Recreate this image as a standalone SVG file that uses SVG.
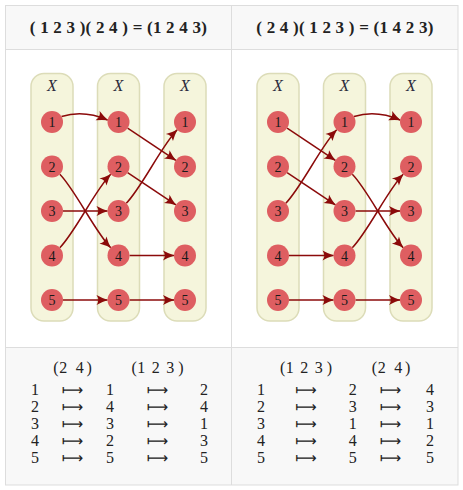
<svg xmlns="http://www.w3.org/2000/svg" width="463" height="490" viewBox="0 0 463 490">
<style>
.cell{fill:#f8f8f8}
.grid{stroke:#dddddd;stroke-width:1;fill:none}
.title{font-family:"Liberation Serif","DejaVu Serif",serif;font-weight:bold;font-size:17px;fill:#222;text-anchor:middle}
.col{fill:#f5f5dc;stroke:#dcdcb8;stroke-width:1.5}
.xl{font-family:"Liberation Serif","DejaVu Serif",serif;font-style:italic;font-size:16px;fill:#2b2b3b;text-anchor:middle}
.nd{fill:#de5e61}
.nt{font-family:"Liberation Serif","DejaVu Serif",serif;font-size:14px;fill:#1a1a1a;text-anchor:middle}
.e{fill:none;stroke:#8b0a0a;stroke-width:1.5;marker-end:url(#ah)}
.tb{font-family:"Liberation Serif","DejaVu Serif",serif;font-size:16px;fill:#222;text-anchor:middle}
.ar{font-family:"DejaVu Sans",sans-serif;font-size:15px;fill:#222;text-anchor:middle}
</style>
<defs>
<marker id="ah" markerUnits="userSpaceOnUse" markerWidth="14" markerHeight="12" viewBox="-12 -6 14 12" refX="0" refY="0" orient="auto" overflow="visible">
<path d="M0.5,0 Q-5,-1.6 -11,-5 Q-7.5,0 -11,5 Q-5,1.6 0.5,0 Z" fill="#8b0a0a"/>
</marker>
<g id="column">
<rect class="col" x="-21" y="73.5" width="42" height="247.5" rx="13"/>
<text class="xl" x="0" y="90.5">X</text>
</g>
</defs>

<g id="table">
<rect class="cell" x="5" y="5" width="453" height="44"/>
<rect fill="#ffffff" x="5" y="49" width="453" height="298"/>
<rect class="cell" x="5" y="347" width="453" height="138"/>
<rect class="grid" x="5.5" y="5.5" width="452.5" height="479.5"/>
<line class="grid" x1="231.5" y1="5" x2="231.5" y2="485"/>
<line class="grid" x1="5" y1="49.5" x2="458" y2="49.5"/>
<line class="grid" x1="5" y1="347.5" x2="458" y2="347.5"/>
</g>

<g id="titles">
<text class="title" x="118.3" y="32.5" textLength="177" lengthAdjust="spacing" style="white-space:pre">( 1 2 3 )( 2 4 ) = (1 2 4 3)</text>
<text class="title" x="344.8" y="32.5" textLength="177" lengthAdjust="spacing" style="white-space:pre">( 2 4 )( 1 2 3 ) = (1 4 2 3)</text>
</g>

<g id="columns">
<use href="#column" x="52"/>
<use href="#column" x="118.5"/>
<use href="#column" x="185"/>
<use href="#column" x="278"/>
<use href="#column" x="344.5"/>
<use href="#column" x="411"/>
</g>

<g id="connectors">
<!-- left, stage 1: (2 4) -->
<path class="e" d="M61.5,116.5 Q84,109.7 107.7,120.1"/>
<path class="e" d="M59.8,174.3 C74.8,189.3 95.7,232.7 110.7,247.7"/>
<path class="e" d="M63,211 L107.5,211"/>
<path class="e" d="M59.8,247.7 C74.8,232.7 95.7,189.3 110.7,174.3"/>
<path class="e" d="M63,300 L107.5,300"/>
<!-- left, stage 2: (1 2 3) -->
<path class="e" d="M127.6,128.1 L175.9,160.4"/>
<path class="e" d="M127.6,172.6 L175.9,204.9"/>
<path class="e" d="M126.3,203.2 C141.3,188.2 162.2,144.8 177.2,129.8"/>
<path class="e" d="M129.5,255.5 L174,255.5"/>
<path class="e" d="M129.5,300 L174,300"/>
<!-- right, stage 1: (1 2 3) -->
<path class="e" d="M287.1,128.1 L335.4,160.4"/>
<path class="e" d="M287.1,172.6 L335.4,204.9"/>
<path class="e" d="M285.8,203.2 C300.8,188.2 321.7,144.8 336.7,129.8"/>
<path class="e" d="M289,255.5 L333.5,255.5"/>
<path class="e" d="M289,300 L333.5,300"/>
<!-- right, stage 2: (2 4) -->
<path class="e" d="M354,116.5 Q376.5,109.7 400.2,120.1"/>
<path class="e" d="M352.3,174.3 C367.3,189.3 388.2,232.7 403.2,247.7"/>
<path class="e" d="M355.5,211 L400,211"/>
<path class="e" d="M352.3,247.7 C367.3,232.7 388.2,189.3 403.2,174.3"/>
<path class="e" d="M355.5,300 L400,300"/>
</g>

<g id="nodes-left">
<g id="L-a1"><circle class="nd" cx="52" cy="122" r="11"/><text class="nt" x="52" y="127">1</text></g>
<g id="L-a2"><circle class="nd" cx="52" cy="166.5" r="11"/><text class="nt" x="52" y="171.5">2</text></g>
<g id="L-a3"><circle class="nd" cx="52" cy="211" r="11"/><text class="nt" x="52" y="216">3</text></g>
<g id="L-a4"><circle class="nd" cx="52" cy="255.5" r="11"/><text class="nt" x="52" y="260.5">4</text></g>
<g id="L-a5"><circle class="nd" cx="52" cy="300" r="11"/><text class="nt" x="52" y="305">5</text></g>
<g id="L-b1"><circle class="nd" cx="118.5" cy="122" r="11"/><text class="nt" x="118.5" y="127">1</text></g>
<g id="L-b2"><circle class="nd" cx="118.5" cy="166.5" r="11"/><text class="nt" x="118.5" y="171.5">2</text></g>
<g id="L-b3"><circle class="nd" cx="118.5" cy="211" r="11"/><text class="nt" x="118.5" y="216">3</text></g>
<g id="L-b4"><circle class="nd" cx="118.5" cy="255.5" r="11"/><text class="nt" x="118.5" y="260.5">4</text></g>
<g id="L-b5"><circle class="nd" cx="118.5" cy="300" r="11"/><text class="nt" x="118.5" y="305">5</text></g>
<g id="L-c1"><circle class="nd" cx="185" cy="122" r="11"/><text class="nt" x="185" y="127">1</text></g>
<g id="L-c2"><circle class="nd" cx="185" cy="166.5" r="11"/><text class="nt" x="185" y="171.5">2</text></g>
<g id="L-c3"><circle class="nd" cx="185" cy="211" r="11"/><text class="nt" x="185" y="216">3</text></g>
<g id="L-c4"><circle class="nd" cx="185" cy="255.5" r="11"/><text class="nt" x="185" y="260.5">4</text></g>
<g id="L-c5"><circle class="nd" cx="185" cy="300" r="11"/><text class="nt" x="185" y="305">5</text></g>
</g>

<g id="nodes-right">
<g id="R-a1"><circle class="nd" cx="278" cy="122" r="11"/><text class="nt" x="278" y="127">1</text></g>
<g id="R-a2"><circle class="nd" cx="278" cy="166.5" r="11"/><text class="nt" x="278" y="171.5">2</text></g>
<g id="R-a3"><circle class="nd" cx="278" cy="211" r="11"/><text class="nt" x="278" y="216">3</text></g>
<g id="R-a4"><circle class="nd" cx="278" cy="255.5" r="11"/><text class="nt" x="278" y="260.5">4</text></g>
<g id="R-a5"><circle class="nd" cx="278" cy="300" r="11"/><text class="nt" x="278" y="305">5</text></g>
<g id="R-b1"><circle class="nd" cx="344.5" cy="122" r="11"/><text class="nt" x="344.5" y="127">1</text></g>
<g id="R-b2"><circle class="nd" cx="344.5" cy="166.5" r="11"/><text class="nt" x="344.5" y="171.5">2</text></g>
<g id="R-b3"><circle class="nd" cx="344.5" cy="211" r="11"/><text class="nt" x="344.5" y="216">3</text></g>
<g id="R-b4"><circle class="nd" cx="344.5" cy="255.5" r="11"/><text class="nt" x="344.5" y="260.5">4</text></g>
<g id="R-b5"><circle class="nd" cx="344.5" cy="300" r="11"/><text class="nt" x="344.5" y="305">5</text></g>
<g id="R-c1"><circle class="nd" cx="411" cy="122" r="11"/><text class="nt" x="411" y="127">1</text></g>
<g id="R-c2"><circle class="nd" cx="411" cy="166.5" r="11"/><text class="nt" x="411" y="171.5">2</text></g>
<g id="R-c3"><circle class="nd" cx="411" cy="211" r="11"/><text class="nt" x="411" y="216">3</text></g>
<g id="R-c4"><circle class="nd" cx="411" cy="255.5" r="11"/><text class="nt" x="411" y="260.5">4</text></g>
<g id="R-c5"><circle class="nd" cx="411" cy="300" r="11"/><text class="nt" x="411" y="305">5</text></g>
</g>

<g id="map-left">
<text class="tb" x="55.8 63.3 79.7 89.2" y="373">(24)</text>
<text class="tb" x="134.2 141.3 155.8 170.3 180.8" y="373">(123)</text>
<text class="tb" x="35" y="395">1</text><text class="ar" x="72.5" y="395">⟼</text><text class="tb" x="110" y="395">1</text><text class="ar" x="157.5" y="395">⟼</text><text class="tb" x="204" y="395">2</text>
<text class="tb" x="35" y="412">2</text><text class="ar" x="72.5" y="412">⟼</text><text class="tb" x="110" y="412">4</text><text class="ar" x="157.5" y="412">⟼</text><text class="tb" x="204" y="412">4</text>
<text class="tb" x="35" y="429">3</text><text class="ar" x="72.5" y="429">⟼</text><text class="tb" x="110" y="429">3</text><text class="ar" x="157.5" y="429">⟼</text><text class="tb" x="204" y="429">1</text>
<text class="tb" x="35" y="446">4</text><text class="ar" x="72.5" y="446">⟼</text><text class="tb" x="110" y="446">2</text><text class="ar" x="157.5" y="446">⟼</text><text class="tb" x="204" y="446">3</text>
<text class="tb" x="35" y="463">5</text><text class="ar" x="72.5" y="463">⟼</text><text class="tb" x="110" y="463">5</text><text class="ar" x="157.5" y="463">⟼</text><text class="tb" x="204" y="463">5</text>
</g>

<g id="map-right">
<text class="tb" x="282.7 289.8 304.3 318.8 329.3" y="373">(123)</text>
<text class="tb" x="374.3 381.8 398.2 407.7" y="373">(24)</text>
<text class="tb" x="261" y="395">1</text><text class="ar" x="306" y="395">⟼</text><text class="tb" x="352.7" y="395">2</text><text class="ar" x="390.5" y="395">⟼</text><text class="tb" x="430" y="395">4</text>
<text class="tb" x="261" y="412">2</text><text class="ar" x="306" y="412">⟼</text><text class="tb" x="352.7" y="412">3</text><text class="ar" x="390.5" y="412">⟼</text><text class="tb" x="430" y="412">3</text>
<text class="tb" x="261" y="429">3</text><text class="ar" x="306" y="429">⟼</text><text class="tb" x="352.7" y="429">1</text><text class="ar" x="390.5" y="429">⟼</text><text class="tb" x="430" y="429">1</text>
<text class="tb" x="261" y="446">4</text><text class="ar" x="306" y="446">⟼</text><text class="tb" x="352.7" y="446">4</text><text class="ar" x="390.5" y="446">⟼</text><text class="tb" x="430" y="446">2</text>
<text class="tb" x="261" y="463">5</text><text class="ar" x="306" y="463">⟼</text><text class="tb" x="352.7" y="463">5</text><text class="ar" x="390.5" y="463">⟼</text><text class="tb" x="430" y="463">5</text>
</g>
</svg>
